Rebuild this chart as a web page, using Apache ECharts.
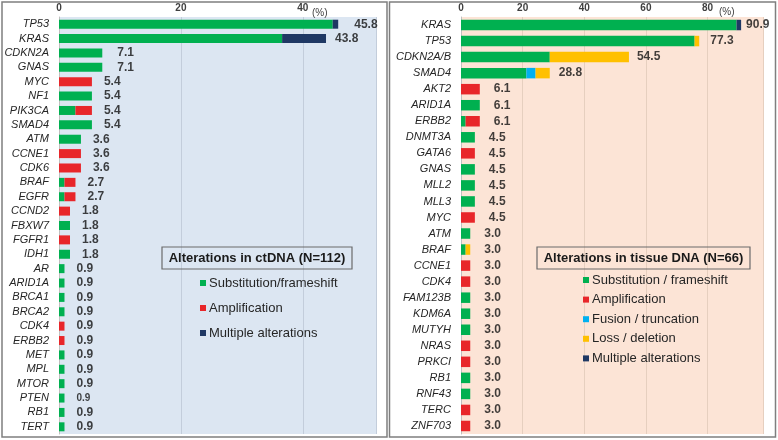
<!DOCTYPE html>
<html><head><meta charset="utf-8">
<script src="https://cdn.jsdelivr.net/npm/echarts@6/dist/echarts.min.js"></script>
<style>html,body{margin:0;padding:0;background:#fff}#c{width:778px;height:440px}</style>
</head><body><div id="c"></div>
<script>
// ---- Left: ctDNA (N=112) ----
const catsL = ['TP53','KRAS','CDKN2A','GNAS','MYC','NF1','PIK3CA','SMAD4','ATM','CCNE1','CDK6','BRAF','EGFR','CCND2','FBXW7','FGFR1','IDH1','AR','ARID1A','BRCA1','BRCA2','CDK4','ERBB2','MET','MPL','MTOR','PTEN','RB1','TERT'];
const subL   = [44.9,36.6,7.1,7.1,0,5.4,2.7,5.4,3.6,0,0,0.9,0.9,0,1.8,0,1.8,0.9,0.9,0.9,0.9,0,0,0.9,0.9,0.9,0.9,0.9,0.9];
const ampL   = [0,0,0,0,5.4,0,2.7,0,0,3.6,3.6,1.8,1.8,1.8,0,1.8,0,0,0,0,0,0.9,0.9,0,0,0,0,0,0];
const multL  = [0.9,7.2,0,0,0,0,0,0,0,0,0,0,0,0,0,0,0,0,0,0,0,0,0,0,0,0,0,0,0];
const totL   = ['45.8','43.8','7.1','7.1','5.4','5.4','5.4','5.4','3.6','3.6','3.6','2.7','2.7','1.8','1.8','1.8','1.8','0.9','0.9','0.9','0.9','0.9','0.9','0.9','0.9','0.9','0.9','0.9','0.9'];
const ticksL = [0,20,40];

// ---- Right: tissue DNA (N=66) ----
const catsR = ['KRAS','TP53','CDKN2A/B','SMAD4','AKT2','ARID1A','ERBB2','DNMT3A','GATA6','GNAS','MLL2','MLL3','MYC','ATM','BRAF','CCNE1','CDK4','FAM123B','KDM6A','MUTYH','NRAS','PRKCI','RB1','RNF43','TERC','ZNF703'];
const subR   = [89.4,75.8,28.8,21.2,0,6.1,1.5,4.5,0,4.5,4.5,4.5,0,3.0,1.5,0,0,3.0,3.0,3.0,0,0,3.0,3.0,0,0];
const ampR   = [0,0,0,0,6.1,0,4.6,0,4.5,0,0,0,4.5,0,0,3.0,3.0,0,0,0,3.0,3.0,0,0,3.0,3.0];
const fusR   = [0,0,0,3.0,0,0,0,0,0,0,0,0,0,0,0,0,0,0,0,0,0,0,0,0,0,0];
const lossR  = [0,1.5,25.7,4.6,0,0,0,0,0,0,0,0,0,0,1.5,0,0,0,0,0,0,0,0,0,0,0];
const multR  = [1.5,0,0,0,0,0,0,0,0,0,0,0,0,0,0,0,0,0,0,0,0,0,0,0,0,0];
const totR   = ['90.9','77.3','54.5','28.8','6.1','6.1','6.1','4.5','4.5','4.5','4.5','4.5','4.5','3.0','3.0','3.0','3.0','3.0','3.0','3.0','3.0','3.0','3.0','3.0','3.0','3.0'];
const ticksR = [0,20,40,60,80];

// label placement tweaks (style only)
const distL = {TP53:16, KRAS:9, CDKN2A:15, GNAS:15, '_':12};
const distR = {KRAS:5, TP53:11, 'CDKN2A/B':8, SMAD4:9, '_':14};
const sizeL = {PTEN:10};

const C = {green:'#00b050', red:'#e8262a', navy:'#1f3864', blue:'#00b0f0', yellow:'#ffc000'};
const nameSubL = 'Substitution/frameshift', nameSubR = 'Substitution / frameshift';
const FF = 'Liberation Sans, Arial';

function xAx(gi, max, ticks){
  return {gridIndex:gi, type:'value', position:'top', min:0, max:max, interval:20,
    axisLine:{show:false}, axisTick:{show:false},
    axisLabel:{fontSize:10, fontWeight:'bold', color:'#404040', margin:4, fontFamily:FF,
      formatter:v => ticks.indexOf(v) >= 0 ? String(v) : ''},
    splitLine:{show:true, lineStyle:{color: gi===0 ? '#c3cddb' : '#e6cfbf', width:1}}};
}
function yAx(gi, cats){
  return {gridIndex:gi, type:'category', data:cats, inverse:true,
    axisLine:{show:true, lineStyle:{color:'#bfbfbf'}}, axisTick:{show:false},
    axisLabel:{fontSize:11, fontStyle:'italic', color:'#262626', margin:10, fontFamily:FF}};
}
function bar(name, data, gi, stack, color, bw){
  return {name:name, type:'bar', xAxisIndex:gi, yAxisIndex:gi, stack:stack, data:data,
    barWidth:bw, itemStyle:{color:color}, silent:true, animation:false};
}
function lbl(tot, cats, gi, dist, sizes){
  return {name:'lbl'+gi, type:'scatter', xAxisIndex:gi, yAxisIndex:gi, symbolSize:0, animation:false, silent:true,
    data: tot.map((t,i)=>({value:[parseFloat(t), i],
      label:{distance: dist[cats[i]] !== undefined ? dist[cats[i]] : dist['_'],
             fontSize: sizes[cats[i]] || 12}})),
    label:{show:true, position:'right', fontWeight:'bold', color:'#111',
      fontFamily:FF, formatter:p => tot[p.dataIndex]}, z:5};
}

const chart = echarts.init(document.getElementById('c'), null, {renderer:'canvas'});
chart.setOption({
  animation:false,
  grid:[
    {left:59, right:402, top:17, bottom:6, show:true, backgroundColor:'#dce6f2', borderWidth:0},
    {left:461, right:15, top:17, bottom:6, show:true, backgroundColor:'#fce4d6', borderWidth:0}
  ],
  xAxis:[xAx(0,52,ticksL), xAx(1,98,ticksR)],
  yAxis:[yAx(0,catsL), yAx(1,catsR)],
  legend:[
    {data:[nameSubL,'Amplification','Multiple alterations'], orient:'vertical', left:195, top:271,
      icon:'rect', itemWidth:6, itemHeight:6, itemGap:11, selectedMode:false,
      textStyle:{fontSize:13, color:'#262626', lineHeight:14, padding:[0,0,0,-2], fontFamily:FF}},
    {data:[nameSubR,'Amplification','Fusion / truncation','Loss / deletion','Multiple alterations'], orient:'vertical', left:578, top:268,
      icon:'rect', itemWidth:6, itemHeight:6, itemGap:5.6, selectedMode:false,
      textStyle:{fontSize:13, color:'#262626', lineHeight:14, padding:[0,0,0,-2], fontFamily:FF}}
  ],
  series:[
    bar(nameSubL, subL, 0, 'L', C.green, 9),
    bar('Amplification', ampL, 0, 'L', C.red, 9),
    bar('Multiple alterations', multL, 0, 'L', C.navy, 9),
    lbl(totL, catsL, 0, distL, sizeL),
    bar(nameSubR, subR, 1, 'R', C.green, 10.5),
    bar('Amplification', ampR, 1, 'R', C.red, 10.5),
    bar('Fusion / truncation', fusR, 1, 'R', C.blue, 10.5),
    bar('Loss / deletion', lossR, 1, 'R', C.yellow, 10.5),
    bar('Multiple alterations', multR, 1, 'R', C.navy, 10.5),
    lbl(totR, catsR, 1, distR, {})
  ],
  graphic:[
    {type:'rect', shape:{x:2, y:2, width:385, height:435}, style:{fill:'none', stroke:'#7f7f7f', lineWidth:1.5}, z:10},
    {type:'rect', shape:{x:389.5, y:2, width:386, height:435}, style:{fill:'none', stroke:'#7f7f7f', lineWidth:1.5}, z:10},
    {type:'text', left:312, top:8, style:{text:'(%)', fontSize:10, fill:'#404040', fontFamily:FF}},
    {type:'text', left:719, top:7, style:{text:'(%)', fontSize:10, fill:'#404040', fontFamily:FF}},
    {type:'rect', shape:{x:162, y:247, width:190, height:22}, style:{fill:'none', stroke:'#6b6b6b', lineWidth:1.2}, z:10},
    {type:'text', x:257, y:258, style:{text:'Alterations in ctDNA (N=112)', fontSize:13, fontWeight:'bold', fill:'#1a1a1a',
      align:'center', verticalAlign:'middle', fontFamily:FF}, z:10},
    {type:'rect', shape:{x:537, y:247, width:213, height:22}, style:{fill:'none', stroke:'#6b6b6b', lineWidth:1.2}, z:10},
    {type:'text', x:643.5, y:258, style:{text:'Alterations in tissue DNA (N=66)', fontSize:13, fontWeight:'bold', fill:'#1a1a1a',
      align:'center', verticalAlign:'middle', fontFamily:FF}, z:10}
  ]
});
</script></body></html>
